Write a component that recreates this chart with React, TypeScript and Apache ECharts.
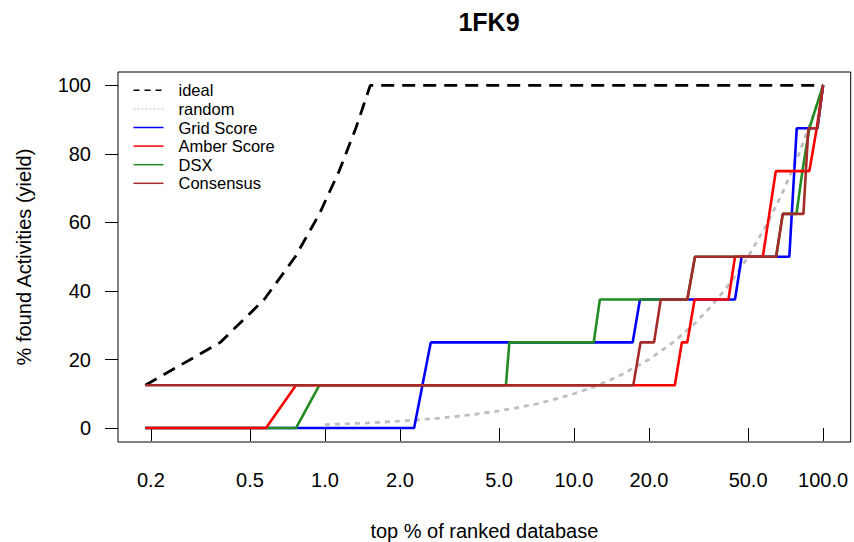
import React, { useEffect, useRef } from "react";
import * as echarts from "echarts";

const titleText = "1FK9";
const xTickValues = [0.2, 0.5, 1, 2, 5, 10, 20, 50, 100];
const xTickLabels = ["0.2", "0.5", "1.0", "2.0", "5.0", "10.0", "20.0", "50.0", "100.0"];
const yTickValues = [0, 20, 40, 60, 80, 100];

const idealData = [
  [0.19, 12.5], [0.38, 25], [0.57, 37.5], [0.76, 50], [0.95, 62.5],
  [1.14, 75], [1.33, 87.5], [1.52, 100], [100, 100],
];
const randomData = [
  [1, 1], [1.5, 1.5], [2, 2], [2.5, 2.5], [3, 3], [4, 4], [5, 5], [6, 6], [7, 7],
  [8, 8], [10, 10], [12, 12], [15, 15], [20, 20], [25, 25], [30, 30], [35, 35],
  [40, 40], [45, 45], [50, 50], [60, 60], [70, 70], [80, 80], [90, 90], [100, 100],
];
const gridScoreData = [
  [0.19, 0], [2.28, 0], [2.66, 25], [17.2, 25], [18.4, 37.5], [44.3, 37.5],
  [47.1, 50], [73.2, 50], [78.4, 87.5], [94.9, 87.5], [100, 100],
];
const amberScoreData = [
  [0.19, 0], [0.58, 0], [0.765, 12.5], [25.4, 12.5], [27.1, 25], [28.5, 25],
  [30.5, 37.5], [41.7, 37.5], [44.3, 50], [57.3, 50], [64.6, 75], [88.1, 75],
  [94.3, 87.5], [100, 100],
];
const dsxData = [
  [0.19, 0], [0.765, 0], [0.95, 12.5], [5.33, 12.5], [5.5, 25], [12.0, 25],
  [12.7, 37.5], [28.5, 37.5], [30.6, 50], [64.8, 50], [68.9, 62.5], [78.2, 62.5],
  [82.6, 75], [88.1, 87.5], [100, 100],
];
const consensusData = [
  [0.19, 12.5], [17.3, 12.5], [18.5, 25], [20.96, 25], [22.3, 37.5], [28.5, 37.5],
  [30.6, 50], [64.8, 50], [68.9, 62.5], [83.4, 62.5], [87.3, 87.5], [94.9, 87.5],
  [100, 100],
];

const FONT = "'Liberation Sans', Arial, Helvetica, sans-serif";

export default function App() {
  const ref = useRef<HTMLDivElement>(null);
  useEffect(() => {
    if (!ref.current) return;
    const chart = echarts.init(ref.current, undefined, { renderer: "svg" });
    const line = (name: string, data: number[][], color: string, width: number, type: any = "solid") => ({
      name,
      type: "line",
      data,
      symbol: "none",
      showSymbol: false,
      silent: true,
      lineStyle: { color, width, type },
      itemStyle: { color },
    });
    chart.setOption({
      animation: false,
      backgroundColor: "#ffffff",
      textStyle: { fontFamily: FONT },
      title: {
        text: titleText,
        left: 484,
        textAlign: "center",
        top: 4,
        textStyle: { fontFamily: FONT, fontSize: 25, fontWeight: "bold", color: "#000" },
      },
      grid: {
        left: 118,
        top: 72,
        right: 3.3,
        bottom: 100,
        containLabel: false,
        outerBoundsMode: "none",
        show: true,
        borderColor: "#000",
        borderWidth: 1,
        backgroundColor: "transparent",
      },
      legend: {
        orient: "vertical",
        left: 127.7,
        top: 76,
        itemWidth: 30,
        itemHeight: 14,
        itemGap: 0,
        data: [
          { name: "ideal", lineStyle: { type: [6, 5], width: 1.6 } },
          { name: "random", lineStyle: { type: [2, 2], width: 1 } },
          "Grid Score",
          "Amber Score",
          "DSX",
          "Consensus",
        ],
        lineStyle: { width: 1.5 },
        itemStyle: { opacity: 0 },
        textStyle: { fontFamily: FONT, fontSize: 16.5, color: "#000", lineHeight: 18.6, padding: [0, 0, 0, 10] },
        selectedMode: false,
      },
      xAxis: {
        type: "log",
        logBase: 10,
        min: 0.1476,
        max: 129.1,
        name: "top % of ranked database",
        nameLocation: "middle",
        nameGap: 79,
        nameTextStyle: { fontFamily: FONT, fontSize: 20, color: "#000" },
        axisLine: { show: false },
        splitLine: { show: false },
        minorTick: { show: false },
        axisTick: { show: true, customValues: xTickValues, length: 13, lineStyle: { color: "#000", width: 1 } },
        axisLabel: {
          customValues: xTickValues,
          margin: 28,
          fontFamily: FONT,
          fontSize: 20,
          color: "#000",
          formatter: (v: number) => {
            let best = 0;
            for (let i = 1; i < xTickValues.length; i++) {
              if (Math.abs(Math.log(xTickValues[i]) - Math.log(v)) < Math.abs(Math.log(xTickValues[best]) - Math.log(v))) best = i;
            }
            return xTickLabels[best];
          },
        },
      },
      yAxis: {
        type: "value",
        min: -4.08,
        max: 103.92,
        name: "% found Activities (yield)",
        nameLocation: "middle",
        nameRotate: 90,
        nameGap: 84,
        nameTextStyle: { fontFamily: FONT, fontSize: 20, color: "#000" },
        axisLine: { show: false },
        splitLine: { show: false },
        axisTick: { show: true, customValues: yTickValues, length: 13, lineStyle: { color: "#000", width: 1 } },
        axisLabel: {
          customValues: yTickValues,
          margin: 27,
          fontFamily: FONT,
          fontSize: 20,
          color: "#000",
        },
      },
      series: [
        line("ideal", idealData, "#000000", 2.8, [13, 8]),
        line("random", randomData, "#bebebe", 2.8, [5, 5]),
        line("Grid Score", gridScoreData, "#0000ff", 2.6),
        line("DSX", dsxData, "#228b22", 2.6),
        line("Amber Score", amberScoreData, "#ff0000", 2.6),
        line("Consensus", consensusData, "#a52a2a", 2.6),
      ],
    });
    return () => chart.dispose();
  }, []);
  return (
    <div
      ref={ref}
      style={{ position: "fixed", left: 0, top: 0, width: 854, height: 542, background: "#fff" }}
    />
  );
}
